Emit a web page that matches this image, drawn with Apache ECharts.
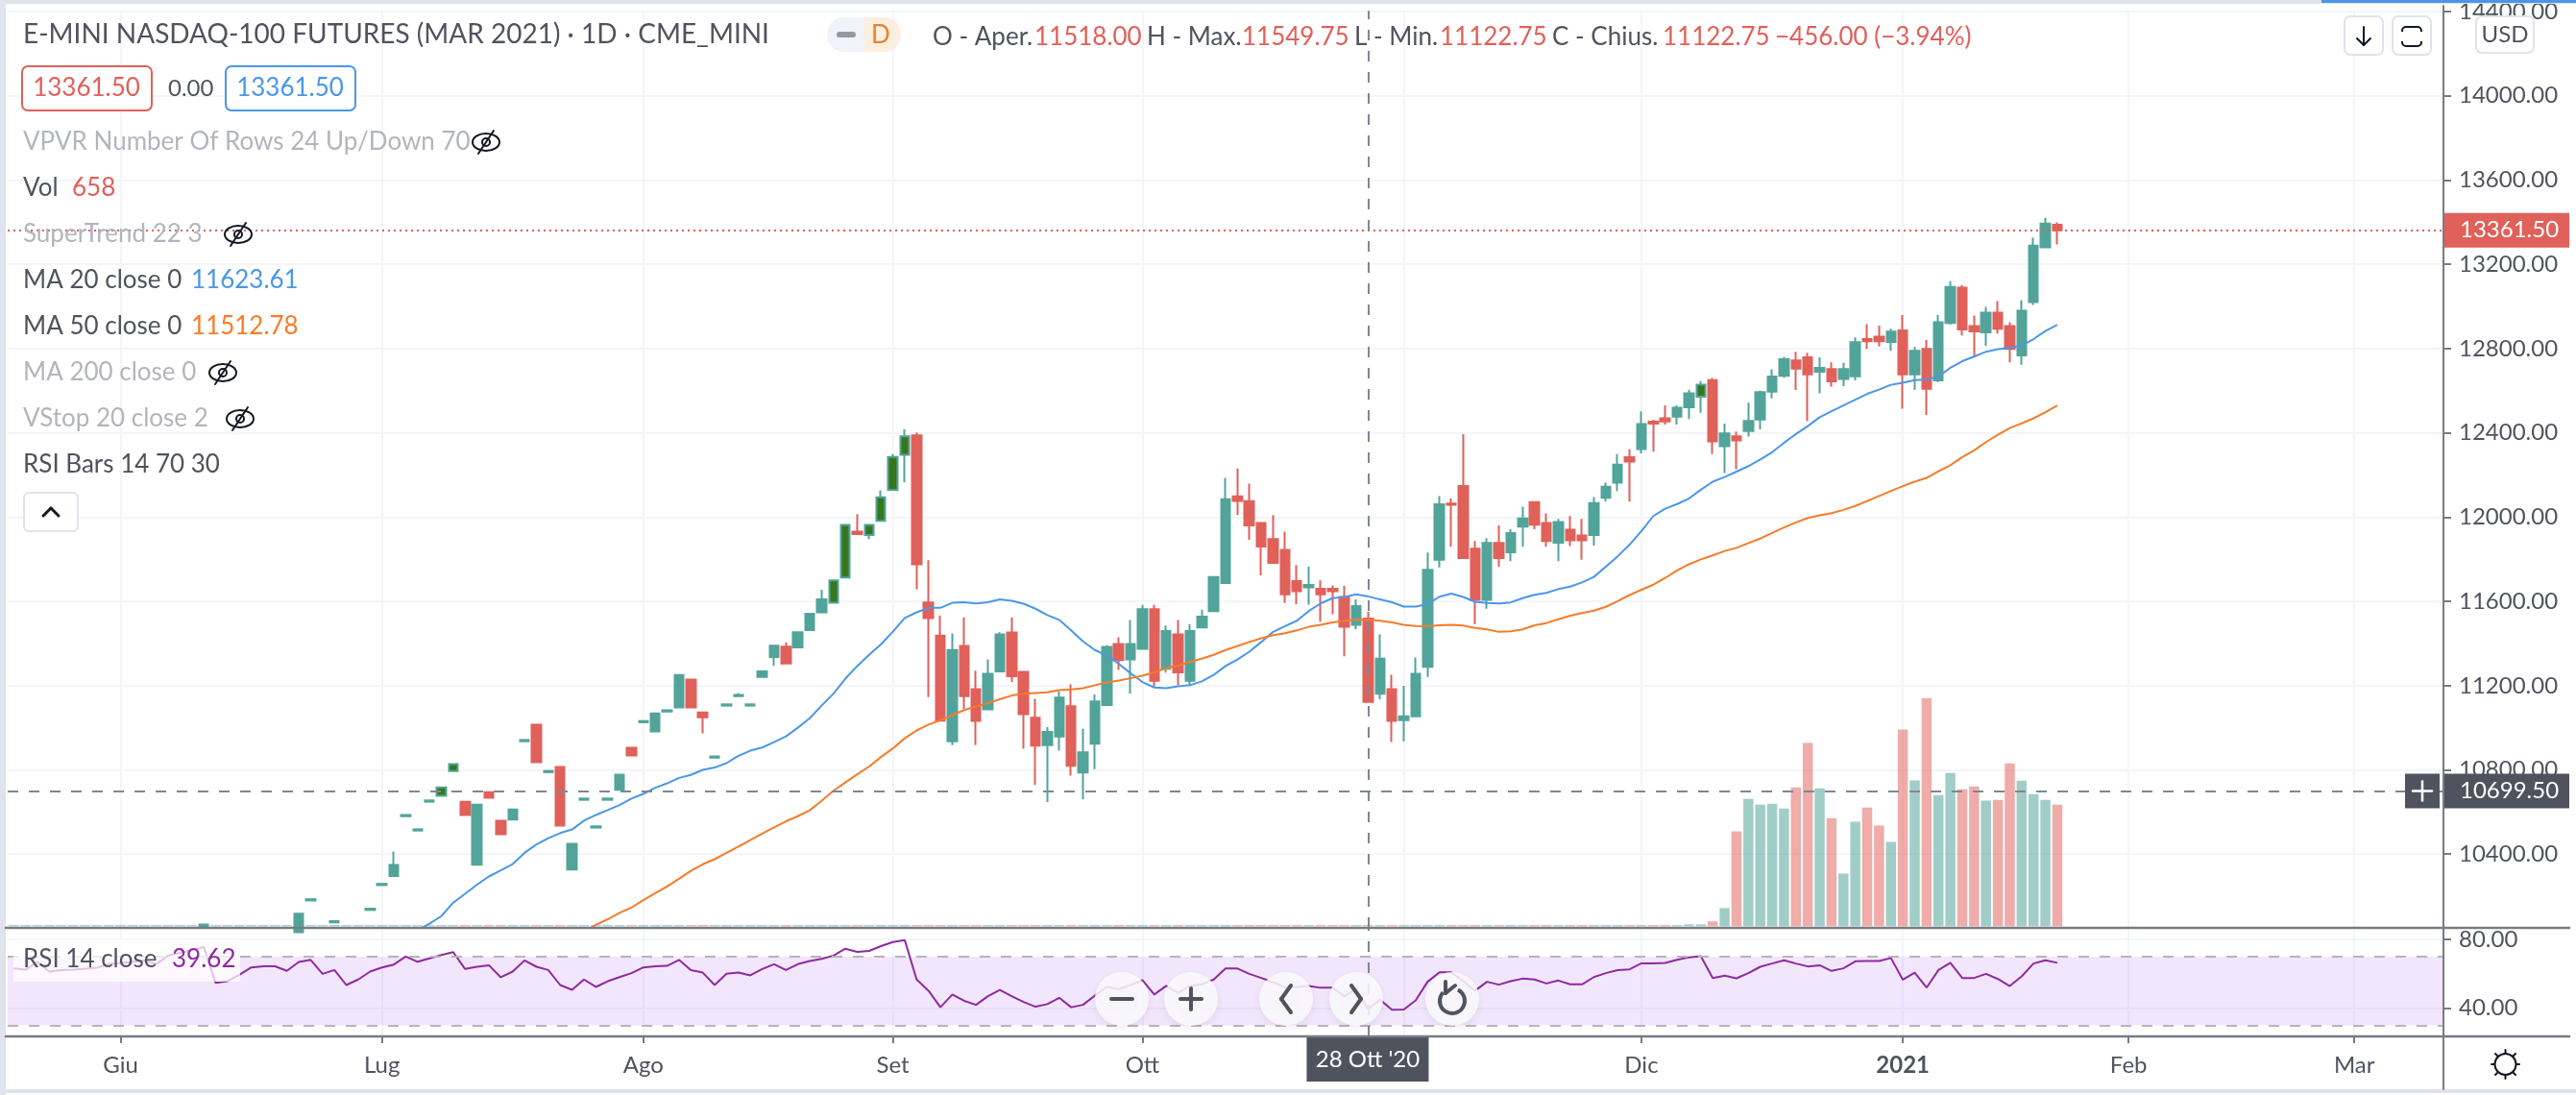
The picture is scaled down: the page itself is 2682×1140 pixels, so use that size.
<!DOCTYPE html>
<html><head><meta charset="utf-8">
<script src="https://cdn.jsdelivr.net/npm/echarts@6/dist/echarts.min.js"></script>
<style>html,body{margin:0;padding:0;background:#fff}#c{width:2682px;height:1140px}</style>
</head><body><div id="c"></div>
<script>
const barCount = 205;
const monthTicks = {9:'Giu',31:'Lug',53:'Ago',74:'Set',95:'Ott',117:'Nov',137:'Dic',159:'2021',178:'Feb',197:'Mar'};
const priceTicks = [10400,10800,11200,11600,12000,12400,12800,13200,13600,14000,14400];
const rsiTicks = [40,80];
const candleStart = 16;
const opens = [10058,null,null,null,null,null,null,null,
10030,10180,null,10076,null,null,10135,10253,10296,10580,10512,10649,10677,10794,10649,10350,10694,10558,10564,10936,
11014,10789,10814,10327,10658,10526,10658,10705,10905,11026,10983,11077,11097,11229,11073,10858,11105,11150,11105,11241,
11336,11385,11382,11463,11548,11593,11713,11931,11915,11982,12129,12296,12388,11595,11437,10936,11388,11183,11087,11268,
11452,11265,11048,10918,10959,11102,10787,10924,11108,11397,11325,11375,11563,11280,11443,11223,11476,11554,11687,12098,
12076,11972,11895,11844,11696,11667,11660,11660,11621,11489,11518,11162,11183,11036,11054,11289,11798,12064,12148,11850,
11607,11877,11833,11955,12071,11972,11878,11940,11913,11915,12092,12163,12284,12323,12453,12469,12477,12521,12572,12650,
12337,12383,12409,12463,12596,12671,12744,12758,12690,12703,12656,12668,12845,12857,12832,12886,12678,12798,12649,12921,
13089,12907,12877,12971,12907,12768,13021,13281,13388];
const closes = [10066,null,null,null,null,null,null,null,
10117,10186,null,10082,null,null,10141,10259,10349,10586,10518,10655,10717,10827,10586,10635,10668,10495,10612,10942,
10836,10795,10536,10449,10664,10532,10664,10777,10868,11032,11068,11083,11250,11097,11050,10864,11111,11156,11111,11268,
11389,11305,11453,11541,11610,11699,11963,11919,11963,12094,12285,12383,11776,11521,11034,11369,11150,11033,11256,11443,
11245,11064,10915,10980,11143,10819,10883,11125,11384,11321,11397,11563,11223,11459,11263,11459,11527,11716,12085,12077,
11960,11860,11783,11633,11648,11678,11633,11648,11479,11578,11122.75,11328,11033,11054,11256,11750,12061,12058,11806,11607,
11877,11806,11924,11994,11964,11887,11976,11890,11890,12067,12144,12249,12264,12442,12444,12454,12519,12587,12628,12359,
12397,12364,12456,12593,12667,12749,12705,12677,12708,12644,12703,12830,12835,12835,12880,12678,12789,12609,12925,13093,
12891,12882,12971,12894,12798,12980,13288,13393,13361.5];
const lows = [10058,null,null,null,null,null,null,null,
10030,10180,null,10076,null,null,10135,10253,10296,10580,10512,10649,10677,10794,10586,10350,10668,10495,10564,10936,
10836,10789,10536,10327,10658,10526,10658,10705,10868,11026,10983,11077,11097,11097,10973,10858,11105,11150,11105,11241,
11294,11305,11382,11463,11548,11593,11713,11919,11896,11982,12129,12166,11657,11146,11034,10918,11090,10917,11087,11268,
11217,10900,10728,10647,10891,10773,10660,10804,11108,11274,11162,11375,11196,11262,11202,11203,11476,11554,11687,12010,
11892,11723,11779,11592,11587,11584,11503,11539,11339,11467,11122.75,11135,10932,10936,11054,11241,11761,11859,11806,11492,
11565,11765,11791,11859,11942,11859,11791,11863,11797,11865,12073,12123,12073,12303,12311,12439,12439,12466,12495,12299,
12209,12227,12382,12417,12564,12662,12603,12455,12587,12619,12622,12649,12798,12810,12789,12514,12603,12485,12641,12913,
12862,12758,12812,12871,12735,12723,13007,13276,13294];
const highs = [10066,null,null,null,null,null,null,null,
10117,10186,null,10082,null,null,10141,10259,10412,10586,10518,10655,10717,10827,10649,10635,10694,10558,10612,10942,
11014,10795,10814,10449,10664,10532,10664,10777,10905,11032,11068,11083,11250,11229,11073,10864,11111,11165,11111,11268,
11389,11405,11453,11541,11655,11699,11963,12014,11963,12127,12299,12417,12402,11795,11533,11447,11524,11271,11325,11453,
11524,11265,11138,11003,11173,11206,10995,11158,11393,11429,11511,11583,11583,11485,11511,11492,11560,11716,12186,12231,
12159,11972,12010,11931,11773,11764,11700,11675,11673,11610,11549.75,11443,11251,11199,11334,11832,12100,12088,12394,11887,
11900,11960,11942,12050,12071,12017,11991,12005,11991,12095,12163,12299,12322,12502,12462,12530,12530,12605,12646,12661,
12444,12406,12543,12600,12702,12761,12785,12780,12758,12735,12732,12853,12916,12909,12894,12959,12808,12841,12959,13120,
13102,12957,12998,13025,12925,13030,13326,13421,13399];
const overboughtBars = [36,37,69,70,72,73,74,75,142];
const ma20Start = 34;
const ma20 = [10038,10070,10106,10170,10212,10255,10294,10323,10353,10406,
10446,10476,10500,10517,10559,10586,10609,10633,10664,10686,
10715,10736,10762,10776,10800,10811,10832,10867,10891,10906,
10932,10959,11000,11045,11105,11162,11233,11293,11346,11396,
11456,11521,11548,11569,11569,11593,11596,11590,11596,11609,
11603,11589,11565,11535,11512,11462,11410,11369,11343,11304,
11259,11217,11191,11188,11197,11202,11220,11251,11293,11324,
11361,11407,11455,11482,11508,11554,11590,11615,11621,11633,
11623.61,11609,11596,11575,11575,11587,11622,11637,11621,11598,
11592,11590,11595,11615,11631,11640,11658,11670,11690,11716,
11765,11814,11869,11934,12005,12040,12062,12088,12130,12168,
12190,12216,12242,12273,12308,12353,12394,12432,12474,12503,
12530,12557,12585,12605,12628,12638,12650,12653,12667,12709,
12740,12762,12785,12797,12803,12815,12845,12883,12913];
const ma50Start = 48;
const ma50 = [10030,10064,10091,10121,10147,10182,
10215,10247,10283,10321,10352,10376,10406,10436,10467,10497,
10527,10556,10580,10608,10653,10701,10740,10779,10816,10861,
10902,10950,10987,11015,11036,11060,11084,11101,11117,11135,
11153,11162,11165,11168,11179,11182,11188,11202,11215,11224,
11235,11247,11263,11283,11295,11313,11328,11346,11369,11388,
11407,11425,11440,11449,11462,11479,11489,11500,11508,11512,
11512.78,11508,11500,11489,11483,11482,11486,11489,11485,11474,
11467,11455,11458,11467,11486,11497,11515,11532,11544,11556,
11574,11601,11630,11655,11679,11711,11747,11776,11799,11818,
11839,11854,11877,11898,11925,11951,11975,11996,12008,12019,
12034,12053,12076,12100,12124,12147,12168,12186,12218,12246,
12285,12317,12356,12391,12423,12445,12469,12498,12530];
const rsi = [63.1,62.4,66.9,61.3,62.2,62.4,63,63.5,65.6,66.3,
66.9,67.8,65.6,70.6,72.2,73.7,75.6,54.8,55.7,59.4,63.7,64.4,64.4,61.7,66.9,68.1,60,62.2,53.5,56.7,61.3,
63.7,65.4,70,67,69,70.9,72.6,62.8,64.1,65,58,61.3,67.8,64.1,62.2,53.5,50.7,56.7,52.4,55.7,58.1,60.4,
63.7,64.4,64.6,68.1,62.2,60.7,53.5,60,60.7,59.1,62.8,65.6,62.2,65.6,67.4,68.7,70.6,74.6,72.8,
73.3,76.1,78.5,79.6,56.7,50.2,40.6,48,44.3,42,47,50.6,47,43.7,40.9,42.4,46.1,40.6,42,47.4,52.4,51.1,53.5,56.3,
48,53,48.9,53,53.9,56.7,63.1,63.1,60,57.6,55.2,52,52.4,53,51.9,52,47,51.1,39.62,45,39.1,39.3,44.6,55.4,60.9,60.9,
55.7,50.2,55.4,53.7,55.7,57.2,56.7,54.4,56.1,53.9,53.9,58.1,60.4,62.2,62.6,66.1,66.1,66.3,68.1,69.6,70.2,
57.6,58.9,57.4,60.4,64.1,66,67.9,66,64.3,65,61.7,63.2,67.3,67.5,67.5,69.2,56.6,60.7,52,62.2,66.4,57.6,57.6,60,57,52.9,58.5,66,67.9,66.4];
const volumes = [6,6,6,6,6,6,6,6,6,6,6,6,6,6,6,6,6,6,6,6,6,6,6,6,6,6,6,6,6,6,
6,6,6,6,6,6,6,6,6,6,6,6,6,6,6,6,6,6,6,6,6,6,6,6,6,6,6,6,6,6,
6,6,6,6,6,6,6,6,6,6,6,6,6,6,6,6,6,6,6,6,6,6,6,6,6,6,6,6,6,6,
6,6,6,6,6,6,6,6,6,6,6,6,6,6,6,6,6,6,6,6,6,6,6,6,6,6,6,6,6,6,
6,6,6,6,6,6,6,6,6,6,6,6,6,6,6,6,6,6,6,6,6,10,10,
26,98,513,689,658,663,637,751,991,746,585,285,565,642,544,456,1064,789,1235,710,829,741,756,679,684,881,788,715,684,658];
const lastPrice = 13361.5, crossPrice = 10699.5, crossBar = 114;

const UP='#52a49a', DOWN='#e0605a', DARK='#38761d', AXIS='#787b86', TXT='#50535e', GRID='#f3f5fa',
      MUTED='#b2b5be', BLUE='#4a97e8', ORANGE='#f57c2a', PURPLE='#8e2a9e', FONT='Lato, "Open Sans", sans-serif';

const cats = Array.from({length:barCount},(_,i)=>String(i));
const pad = (start,arr)=>Array(start).fill(null).concat(arr).concat(Array(barCount-start-arr.length).fill(null));
const candleData = cats.map((_,i)=>{
  const k=i-candleStart;
  if(k<0||k>=opens.length||opens[k]===null) return ['-','-','-','-'];
  const v=[opens[k],closes[k],lows[k],highs[k]];
  if(overboughtBars.includes(i)) return {value:v,itemStyle:{color:DARK,color0:DARK,borderColor:UP,borderColor0:UP,borderWidth:2}};
  return v;
});
const volData = volumes.map((v,i)=>{
  const k=i-candleStart;
  const down = k>=0&&k<opens.length&&opens[k]!==null&&closes[k]<opens[k];
  return {value:v,itemStyle:{color:down?'rgba(224,96,90,.52)':'rgba(82,164,154,.55)'}};
});
const isTick = i=>monthTicks[i]!==undefined;
const xAxisBase = (gridIndex,labels)=>({
  type:'category',gridIndex,data:cats,boundaryGap:true,
  axisLine:{show:false},
  axisTick:{show:labels,alignWithLabel:true,interval:isTick,length:7,lineStyle:{color:AXIS,width:2}},
  axisLabel:{show:labels,interval:isTick,margin:18,fontFamily:FONT,fontSize:24,color:TXT,
    formatter:v=>{const t=monthTicks[+v]; return t==='2021'?'{b|2021}':(t||'');},
    rich:{b:{fontWeight:'bold',fontFamily:FONT,fontSize:24,color:TXT}}},
  splitLine:{show:true,alignWithLabel:true,interval:isTick,lineStyle:{color:GRID,width:2}}
});
const chart = echarts.init(document.getElementById('c'),null,{renderer:'canvas',width:2682,height:1140});
const option = {
  animation:false,backgroundColor:'#fff',
  grid:[{left:8,width:2536,top:6,height:960},{left:8,width:2536,top:966,height:113}],
  xAxis:[xAxisBase(0,false),xAxisBase(1,true)],
  yAxis:[
   {type:'value',gridIndex:0,position:'right',min:10050,max:14403.6,scale:true,
    axisLine:{show:true,onZero:false,lineStyle:{color:AXIS,width:2}},
    axisTick:{show:true,length:8,customValues:priceTicks,lineStyle:{color:AXIS,width:2}},
    axisLabel:{show:true,margin:16,customValues:priceTicks,fontFamily:FONT,fontSize:24,color:TXT,formatter:v=>v.toFixed(2)},
    splitLine:{show:true,lineStyle:{color:GRID,width:2}}},
   {type:'value',gridIndex:0,position:'left',min:-9,max:4953,show:false,splitLine:{show:false}},
   {type:'value',gridIndex:1,position:'right',min:23.65,max:86.7,
    axisLine:{show:true,onZero:false,lineStyle:{color:AXIS,width:2}},
    axisTick:{show:true,length:8,customValues:rsiTicks,lineStyle:{color:AXIS,width:2}},
    axisLabel:{show:true,margin:16,customValues:rsiTicks,fontFamily:FONT,fontSize:24,color:TXT,formatter:v=>v.toFixed(2)},
    splitLine:{show:true,lineStyle:{color:GRID,width:2}}}
  ],
  series:[
   {name:'Vol',type:'bar',xAxisIndex:0,yAxisIndex:1,barWidth:10.5,data:volData,z:1,silent:true},
   {name:'Price',type:'candlestick',xAxisIndex:0,yAxisIndex:0,barWidth:10,data:candleData,z:3,silent:true,
    itemStyle:{color:UP,color0:DOWN,borderColor:UP,borderColor0:DOWN,borderWidth:2},
    markLine:{silent:true,symbol:'none',label:{show:false},animation:false,data:[
      {yAxis:lastPrice,lineStyle:{color:DOWN,type:[2,4],width:2}},
      {yAxis:crossPrice,lineStyle:{color:'#7f8793',type:[11,11],width:2}},
      {xAxis:String(crossBar),lineStyle:{color:'#7f8793',type:[11,11],width:2}}
    ]}},
   {name:'MA 20',type:'line',xAxisIndex:0,yAxisIndex:0,data:pad(ma20Start,ma20),symbol:'none',z:4,silent:true,
    lineStyle:{color:BLUE,width:2}},
   {name:'MA 50',type:'line',xAxisIndex:0,yAxisIndex:0,data:pad(ma50Start,ma50),symbol:'none',z:4,silent:true,
    lineStyle:{color:ORANGE,width:2}},
   {name:'RSI',type:'line',xAxisIndex:1,yAxisIndex:2,data:rsi,symbol:'none',z:4,silent:true,
    lineStyle:{color:PURPLE,width:2},
    markArea:{silent:true,itemStyle:{color:'rgba(190,130,240,.2)'},data:[[{yAxis:70},{yAxis:30}]]},
    markLine:{silent:true,symbol:'none',label:{show:false},animation:false,data:[
      {yAxis:70,lineStyle:{color:'#b5b5b8',type:[11,11],width:2}},
      {yAxis:30,lineStyle:{color:'#bcb0c4',type:[11,11],width:2}},
      {xAxis:String(crossBar),lineStyle:{color:'#7f8793',type:[11,11],width:2}}
    ]}}
  ]
};
chart.setOption(option);

/* ---- chart chrome: legend rows, buttons, tags ---- */
const Z=100;
const T=(x,y,text,fill,size=26,align='left',weight='normal')=>({type:'text',z:Z+2,silent:true,style:{x,y,text,fill,font:`${weight} ${size}px ${FONT}`,align,textAlign:align,verticalAlign:'middle',textVerticalAlign:'middle'}});
const R=(x,y,w,h,fill,stroke,r=0,lw=2,opacity=1,z=Z)=>({type:'rect',z,silent:true,shape:{x,y,width:w,height:h,r},style:{fill:fill||'none',stroke:stroke||'none',lineWidth:lw,opacity}});
const L=(x1,y1,x2,y2,stroke,lw=2,z=Z+2)=>({type:'line',z,silent:true,shape:{x1,y1,x2,y2},style:{stroke,lineWidth:lw,lineCap:'round'}});
const eye=(cx,cy)=>[
  {type:'ellipse',z:Z+2,silent:true,shape:{cx,cy,rx:14,ry:9},style:{fill:'none',stroke:'#131722',lineWidth:2}},
  {type:'circle',z:Z+2,silent:true,shape:{cx,cy,r:4},style:{fill:'none',stroke:'#131722',lineWidth:2}},
  L(cx-8,cy+12,cx+8,cy-12,'#131722',2)
];
const yLast=chart.convertToPixel({yAxisIndex:0},lastPrice);
const yCross=chart.convertToPixel({yAxisIndex:0},crossPrice);
const xCross=chart.convertToPixel({xAxisIndex:0},String(crossBar));
const g=[];
g.push(R(0,0,6,1140,'#e0e3eb'), R(0,0,2682,4,'#e0e3eb'), R(2417,0,265,3,BLUE), R(0,1134,2682,4,'#e0e3eb'));
g.push(R(2675,0,7,1134,'#fff',null,0,0,1,Z-1));
g.push(L(6,966,2675,966,AXIS,2.5,Z+1), L(6,1079,2675,1079,AXIS,2.5,Z+1), L(2544,6,2544,1134,AXIS,2,Z+1));
// legend
g.push(T(24,36,'E-MINI NASDAQ-100 FUTURES (MAR 2021) · 1D · CME_MINI',TXT,28));
g.push(R(861,18,77,36,'#f0f3fa',null,18,0), R(900,18,38,36,'#fdeee0',null,[0,18,18,0],0,1,Z+1));
g.push(R(871,33,20,6,'#9598a1',null,3,0,1,Z+1), T(917,37,'D','#e8832a',26,'center'));
g.push(T(971,39,'O - Aper.',TXT),T(1077,39,'11518.00',DOWN),T(1194,39,'H - Max.',TXT),T(1293,39,'11549.75',DOWN),
       T(1410,39,'L - Min.',TXT),T(1499,39,'11122.75',DOWN),T(1616,39,'C - Chius.',TXT),T(1731,39,'11122.75',DOWN),
       T(1848,39,'−456.00 (−3.94%)',DOWN));
g.push(R(23,69,135,46,'#fff',DOWN,6),T(90,92,'13361.50',DOWN,26,'center'),T(175,92,'0.00',TXT,24),
       R(235,69,135,46,'#fff',BLUE,6),T(302,92,'13361.50',BLUE,26,'center'));
g.push(T(24,148,'VPVR Number Of Rows 24 Up/Down 70',MUTED),...eye(506,148));
g.push(T(24,196,'Vol',TXT),T(75,196,'658',DOWN));
g.push(T(24,244,'SuperTrend 22 3',MUTED),...eye(248,244));
g.push(T(24,292,'MA 20 close 0',TXT),T(199,292,'11623.61',BLUE));
g.push(T(24,340,'MA 50 close 0',TXT),T(199,340,'11512.78',ORANGE));
g.push(T(24,388,'MA 200 close 0',MUTED),...eye(232,388));
g.push(T(24,436,'VStop 20 close 2',MUTED),...eye(250,436));
g.push(T(24,484,'RSI Bars 14 70 30',TXT));
g.push(R(25,513,56,40,'#fff','#e0e3eb',5),L(45,537,53,529,'#131722',3),L(53,529,61,537,'#131722',3));
// top right buttons
g.push(R(2441,17,40,40,'#fff','#e0e3eb',6),L(2461,28,2461,47,'#131722',2),L(2454,40,2461,47,'#131722',2),L(2468,40,2461,47,'#131722',2));
g.push(R(2491,17,40,40,'#fff','#e0e3eb',6),R(2501,28,20,20,'none','#131722',4,2,1,Z+1),R(2498,33,26,10,'#fff',null,0,0,1,Z+1));
g.push(R(2578,17,60,38,'#fff','#e0e3eb',6,2,1,Z+1),T(2608,36,'USD',TXT,24,'center'));
// RSI legend
g.push(R(14,978,236,44,'rgba(255,255,255,.72)',null,0,0,1,Z),T(24,999,'RSI 14 close',TXT),T(179,999,'39.62',PURPLE));
// price tags
g.push(R(2544,yLast-18,131,36,DOWN),T(2561,yLast,'13361.50','#fff',24));
g.push(R(2544,yCross-18,131,36,TXT),T(2561,yCross,'10699.50','#fff',24));
g.push(R(2504,yCross-18,36,36,TXT),L(2522,yCross-10,2522,yCross+10,'#fff',2.5),L(2512,yCross,2532,yCross,'#fff',2.5));
g.push(R(xCross-64,1080,127,46,TXT),T(xCross-0.5,1103,"28 Ott '20",'#fff',24,'center'));
// nav buttons
[1168,1240,1339,1412,1512].forEach(cx=>g.push({type:'circle',z:Z,silent:true,shape:{cx,cy:1040,r:28},style:{fill:'rgba(250,250,253,.86)',shadowBlur:8,shadowColor:'rgba(0,0,0,.08)',shadowOffsetY:3}}));
g.push(L(1157,1040,1179,1040,TXT,4),L(1229,1040,1251,1040,TXT,4),L(1240,1029,1240,1051,TXT,4));
g.push(L(1344,1026,1334,1040,TXT,4),L(1334,1040,1344,1054,TXT,4),L(1407,1026,1417,1040,TXT,4),L(1417,1040,1407,1054,TXT,4));
g.push({type:'arc',z:Z+2,silent:true,shape:{cx:1512,cy:1042,r:13,startAngle:-1.1,endAngle:3.9,clockwise:true},style:{fill:'none',stroke:TXT,lineWidth:4}});
g.push(L(1505,1022,1505,1034,TXT,4),L(1505,1034,1515,1026,TXT,4));
// sun
g.push({type:'circle',z:Z+2,silent:true,shape:{cx:2608.5,cy:1108,r:11},style:{fill:'none',stroke:'#131722',lineWidth:2}});
g.push(L(2608.5,1093,2608.5,1097,'#131722',2),L(2608.5,1119,2608.5,1123,'#131722',2),L(2594,1108,2597,1108,'#131722',2),L(2620,1108,2623,1108,'#131722',2),
       L(2598,1097,2600,1099,'#131722',2),L(2617,1117,2619,1119,'#131722',2),L(2598,1119,2600,1117,'#131722',2),L(2617,1099,2619,1097,'#131722',2));
chart.setOption({graphic:g});
</script></body></html>
